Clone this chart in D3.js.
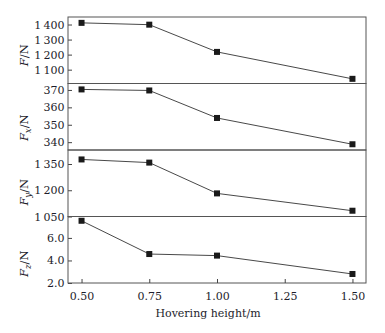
<!DOCTYPE html>
<html>
<head>
<meta charset="utf-8">
<script src="https://cdn.jsdelivr.net/npm/d3@7"></script>
<style>
  body { margin: 0; background: #fff; }
  svg text { font-family: "DejaVu Serif", serif; fill: #1d1d2b; }
</style>
</head>
<body>
<div id="chart"></div>
<script>
// hovering heights and the four force series
const heights = [0.5, 0.75, 1.0, 1.5];
const F  = [1411, 1399, 1218, 1039];
const Fx = [370.3, 369.7, 353.9, 338.8];
const Fy = [1376, 1358, 1182, 1083];
const Fz = [7.52, 4.57, 4.43, 2.80];

const xTicks = [0.5, 0.75, 1.0, 1.25, 1.5];
const ticksF  = [1100, 1200, 1300, 1400];
const ticksFx = [340, 350, 360, 370];
const ticksFy = [1050, 1200, 1350];
const ticksFz = [2, 4, 6];

const W = 385, H = 333;
const mLeft = 68, mRight = 366, mTop = 17, mBottom = 283;
const ph = (mBottom - mTop) / 4;

const loc = d3.formatLocale({decimal: ".", thousands: "\u2009", grouping: [3], currency: ["", ""]});

const panels = [
  {vals: F,  dom: [1008, 1450], ticks: ticksF,  fmt: loc.format(","), sub: "",  dy: 5},
  {vals: Fx, dom: [335.5, 373.7], ticks: ticksFx, fmt: loc.format("d"), sub: "x", dy: 11},
  {vals: Fy, dom: [1050, 1430], ticks: ticksFy, fmt: loc.format(","), sub: "y", dy: 9},
  {vals: Fz, dom: [2.0, 7.9], ticks: ticksFz, fmt: loc.format(".1f"), sub: "z", dy: 14}
];

const svg = d3.select("#chart").append("svg").attr("width", W).attr("height", H);

let x = d3.scaleLinear().domain([0.45, 1.55]).range([mLeft, mRight]);

panels.forEach(function(p, i) {
  let y0 = mTop + i * ph, y1 = y0 + ph;
  let y = d3.scaleLinear().domain(p.dom).range([y1, y0]);
  let g = svg.append("g");

  let ya = g.append("g").attr("transform", "translate(" + mLeft + ",0)")
    .call(d3.axisRight(y).tickValues(p.ticks).tickFormat(p.fmt).tickSize(4));
  ya.select(".domain").remove();
  ya.selectAll("line").attr("stroke", "#444");
  ya.selectAll("text").attr("x", -3.5).attr("text-anchor", "end")
    .style("font-size", "11px");

  // frame
  g.append("rect").attr("x", mLeft).attr("y", y0).attr("width", mRight - mLeft).attr("height", ph)
    .attr("fill", "none").attr("stroke", "#555").attr("stroke-width", 1);

  let line = d3.line().x((d, j) => x(heights[j])).y(d => y(d));
  g.append("path").datum(p.vals).attr("d", line)
    .attr("fill", "none").attr("stroke", "#333").attr("stroke-width", 0.9);

  g.selectAll("rect.pt").data(p.vals).enter().append("rect").attr("class", "pt")
    .attr("x", (d, j) => x(heights[j]) - 3).attr("y", d => y(d) - 3)
    .attr("width", 6).attr("height", 6).attr("fill", "#1a1a1a");

  // y label
  let t = g.append("text")
    .attr("transform", "translate(28," + ((y0 + y1) / 2 + p.dy) + ") rotate(-90)")
    .attr("text-anchor", "middle").style("font-size", "11.5px");
  t.append("tspan").attr("font-style", "italic").text("F");
  if (p.sub) {
    t.append("tspan").attr("font-style", "italic").attr("dy", 3).style("font-size", "8.5px").text(p.sub);
    t.append("tspan").attr("dy", -3).text("/N");
  } else {
    t.append("tspan").text("/N");
  }

  if (i === 3) {
    let xa = g.append("g").attr("transform", "translate(0," + y1 + ")")
      .call(d3.axisTop(x).tickValues(xTicks).tickFormat(d3.format(".2f")).tickSize(4));
    xa.select(".domain").remove();
    xa.selectAll("line").attr("stroke", "#444");
    xa.selectAll("text").attr("y", 13).attr("dy", "0.35em").style("font-size", "11px");
  }
});

svg.append("text").attr("x", 208).attr("y", 317)
  .attr("text-anchor", "middle").style("font-size", "11px").text("Hovering height/m");
</script>
</body>
</html>
